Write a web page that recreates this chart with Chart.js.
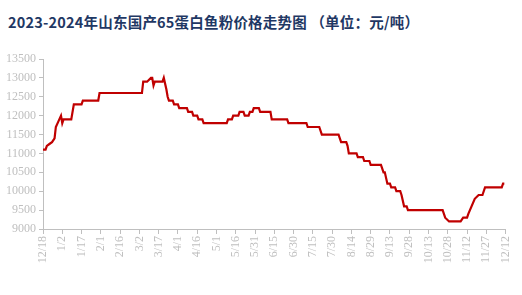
<!DOCTYPE html>
<html>
<head>
<meta charset="utf-8">
<script src="https://cdn.jsdelivr.net/npm/chart.js@4.4.1/dist/chart.umd.min.js"></script>
<style>
  html, body { margin: 0; padding: 0; background: #fff; }
  #wrap { position: relative; width: 522px; height: 295px; }
  #titulo {
    position: absolute; left: 8px; top: 11px;
    font-family: "Noto Sans CJK SC", sans-serif; font-weight: bold;
    font-size: 14.5px; color: #1f3864; white-space: pre; letter-spacing: 0.2px;
  }
  canvas { position: absolute; left: 0; top: 0; }
</style>
</head>
<body>
<div id="wrap">
  <div id="titulo">2023-2024年山东国产65蛋白鱼粉价格走势图 （单位：元/吨）</div>
  <canvas id="graficoPrecio" width="522" height="295"></canvas>
</div>
<script>
// dias desde 12/18/2023 y precio (元/吨) en cada punto de cambio
const dias = [0, 2, 3, 5, 7, 9, 10, 12, 14, 15, 16, 22, 24, 30, 31, 43, 44, 77, 78, 81,
  84, 85, 86, 87, 93, 94, 96, 97, 98, 101, 102, 105, 106, 112, 113, 116, 117, 120, 121, 124,
  125, 143, 144, 147, 148, 152, 153, 156, 157, 160, 161, 163, 164, 168, 169, 177, 178, 190, 191, 205,
  206, 215, 217, 230, 232, 236, 237, 238, 244, 245, 249, 250, 254, 255, 263, 265, 266, 268, 270, 271,
  274, 275, 278, 279, 281, 283, 284, 311, 313, 316, 325, 327, 330, 331, 336, 339, 342, 344, 357, 358, 359];
const precios = [11100, 11100, 11200, 11250, 11300, 11400, 11700, 11850, 12000, 11800, 11900, 11900, 12300, 12300, 12400, 12400, 12600, 12600, 12900, 12900,
  13000, 13000, 12800, 12900, 12900, 13000, 12700, 12500, 12400, 12400, 12300, 12300, 12200, 12200, 12100, 12100, 12000, 12000, 11900, 11900,
  11800, 11800, 11900, 11900, 12000, 12000, 12100, 12100, 12000, 12000, 12100, 12100, 12200, 12200, 12100, 12100, 11900, 11900, 11800, 11800,
  11700, 11700, 11500, 11500, 11300, 11300, 11200, 11000, 11000, 10900, 10900, 10800, 10800, 10700, 10700, 10500, 10500, 10200, 10200, 10100,
  10100, 10000, 10000, 9900, 9600, 9600, 9500, 9500, 9300, 9200, 9200, 9300, 9300, 9400, 9800, 9900, 9900, 10100, 10100, 10200, 10200];

const etiquetasX = ['12/18', '1/2', '1/17', '2/1', '2/16', '3/2', '3/17', '4/1', '4/16', '5/1', '5/16', '5/31',
  '6/15', '6/30', '7/15', '7/30', '8/14', '8/29', '9/13', '9/28', '10/13', '10/28', '11/12', '11/27', '12/12'];

const gris = '#bfbfbf';
const fuenteEje = { family: '"Liberation Serif", serif', size: 12 };

const ctx = document.getElementById('graficoPrecio');

new Chart(ctx, {
  type: 'line',
  data: {
    datasets: [{
      label: '65蛋白鱼粉',
      data: dias.map((d, i) => ({ x: d, y: precios[i] })),
      borderColor: '#c00000',
      borderWidth: 2.2,
      pointRadius: 0,
      tension: 0,
      fill: false
    }]
  },
  options: {
    responsive: false,
    animation: false,
    layout: { padding: { top: 59, right: 8, left: 0, bottom: 0 } },
    plugins: { legend: { display: false }, tooltip: { enabled: false } },
    scales: {
      x: {
        type: 'linear',
        min: 0,
        max: 360,
        afterFit: s => { s.height = 66; },
        afterBuildTicks: s => { s.ticks = etiquetasX.map((_, i) => ({ value: i * 15 })); },
        ticks: {
          autoSkip: false,
          maxRotation: 90,
          minRotation: 90,
          padding: 2,
          color: gris,
          font: fuenteEje,
          callback: v => etiquetasX[Math.round(v / 15)]
        },
        grid: { drawOnChartArea: false, tickLength: 5, color: gris },
        border: { color: gris }
      },
      y: {
        min: 9000,
        max: 13500,
        afterFit: s => { s.width = 43; },
        ticks: { stepSize: 500, padding: 3, color: gris, font: fuenteEje, callback: v => String(v) },
        grid: { drawOnChartArea: false, tickLength: 4, color: gris },
        border: { color: gris }
      }
    }
  }
});
</script>
</body>
</html>
